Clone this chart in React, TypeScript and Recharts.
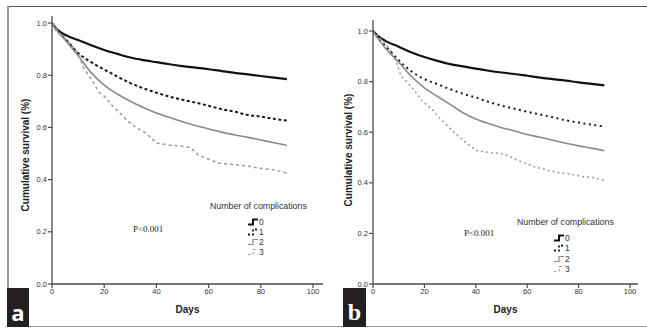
import React from 'react';
import { LineChart, Line, XAxis, YAxis } from 'recharts';

// ---- data ----
const days = [0, 2, 5, 10, 15, 20, 25, 30, 35, 40, 45, 50, 55, 60, 65, 70, 75, 80, 85, 90];

const aGroup0 = [1.0, 0.975, 0.955, 0.935, 0.915, 0.897, 0.882, 0.868, 0.858, 0.85, 0.842, 0.835, 0.829, 0.823, 0.816, 0.809, 0.803, 0.797, 0.791, 0.785];
const aGroup1 = [1.0, 0.97, 0.94, 0.885, 0.85, 0.822, 0.795, 0.77, 0.75, 0.733, 0.718, 0.706, 0.695, 0.683, 0.67, 0.66, 0.648, 0.642, 0.633, 0.626];
const aGroup2 = [1.0, 0.97, 0.935, 0.875, 0.81, 0.762, 0.728, 0.7, 0.676, 0.655, 0.638, 0.622, 0.607, 0.594, 0.582, 0.571, 0.562, 0.552, 0.541, 0.531];
const aGroup3Days = [0, 3, 6, 10, 12, 14, 16, 18, 20, 23, 26, 29, 32, 35, 38, 40, 45, 50, 53, 56, 60, 64, 70, 75, 79, 85, 90];
const aGroup3 = [1.0, 0.96, 0.93, 0.885, 0.83, 0.8, 0.77, 0.735, 0.72, 0.685, 0.655, 0.625, 0.6, 0.585, 0.56, 0.54, 0.532, 0.528, 0.522, 0.495, 0.478, 0.463, 0.457, 0.452, 0.444, 0.438, 0.425];

const bGroup0 = [1.0, 0.98, 0.96, 0.938, 0.915, 0.897, 0.882, 0.869, 0.86, 0.851, 0.843, 0.836, 0.83, 0.823, 0.816, 0.81, 0.804, 0.797, 0.791, 0.785];
const bGroup1 = [1.0, 0.97, 0.94, 0.885, 0.84, 0.81, 0.79, 0.77, 0.752, 0.737, 0.72, 0.705, 0.693, 0.681, 0.67, 0.659, 0.647, 0.638, 0.63, 0.622];
const bGroup2 = [1.0, 0.97, 0.93, 0.877, 0.82, 0.775, 0.742, 0.71, 0.677, 0.652, 0.634, 0.618, 0.605, 0.591, 0.58, 0.568, 0.556, 0.546, 0.537, 0.527];
const bGroup3Days = [0, 3, 6, 9, 11, 14, 16, 19, 23, 26, 29, 32, 36, 40, 45, 50, 53, 56, 60, 63, 68, 72, 76, 82, 86, 90];
const bGroup3 = [1.0, 0.97, 0.935, 0.88, 0.82, 0.79, 0.767, 0.725, 0.69, 0.655, 0.625, 0.595, 0.56, 0.528, 0.52, 0.515, 0.505, 0.49, 0.475, 0.462, 0.45, 0.44, 0.436, 0.424, 0.42, 0.41];

const xTicks = [0, 20, 40, 60, 80, 100];
const yTicks = [0, 0.2, 0.4, 0.6, 0.8, 1.0];
const groupLabels = ['0', '1', '2', '3'];
const legendTitle = 'Number of complications';
const pText = 'P<0.001';
const xTitle = 'Days';
const yTitle = 'Cumulative survival (%)';
const panelLetters = ['a', 'b'];

const toSeries = (xs: number[], ys: number[]) => xs.map((x, i) => ({ x, y: ys[i] }));

type SeriesStyle = { stroke: string; width: number; dash?: string; curve: 'monotone' | 'linear' };

const stylesA: SeriesStyle[] = [
  { stroke: '#111', width: 2.2, curve: 'monotone' },
  { stroke: '#1a1a1a', width: 2, dash: '3 2.5', curve: 'monotone' },
  { stroke: '#8a8a8a', width: 1.6, curve: 'monotone' },
  { stroke: '#9a9a9a', width: 1.5, dash: '3 3', curve: 'linear' },
];
const stylesB: SeriesStyle[] = [
  { stroke: '#111', width: 2.2, curve: 'monotone' },
  { stroke: '#1a1a1a', width: 2, dash: '2 3.5', curve: 'monotone' },
  { stroke: '#8a8a8a', width: 1.6, curve: 'monotone' },
  { stroke: '#9a9a9a', width: 1.5, dash: '2 3', curve: 'linear' },
];

const font = '"Liberation Sans", Arial, sans-serif';

type PanelProps = {
  left: number;
  width: number;
  margin: { top: number; right: number; bottom: number; left: number };
  yAxisWidth: number;
  xMax: number;
  yMax: number;
  series: { x: number; y: number }[][];
  styles: SeriesStyle[];
  yLabelX: number;
  yLabelY: number;
};

function Panel(p: PanelProps) {
  const axisColor = '#4a4a4a';
  return (
    <div style={{ position: 'absolute', left: p.left, top: 0 }}>
      <LineChart width={p.width} height={329} margin={p.margin}>
        <XAxis
          type="number"
          dataKey="x"
          domain={[0, p.xMax]}
          ticks={xTicks}
          allowDataOverflow
          height={30}
          tickSize={4}
          tickMargin={1}
          axisLine={{ stroke: axisColor, strokeWidth: 1.3 }}
          tickLine={{ stroke: axisColor, strokeWidth: 1.2 }}
          tick={{ fontSize: 7.5, fill: '#333' }}
          label={(props: any) => (
            <text x={(props.viewBox?.x ?? 0) + (props.viewBox?.width ?? 0) / 2} y={313} textAnchor="middle" fontSize={10} fontWeight="bold" fill="#222">
              {xTitle}
            </text>
          )}
        />
        <YAxis
          type="number"
          dataKey="y"
          domain={[0, p.yMax]}
          ticks={yTicks}
          allowDataOverflow
          width={p.yAxisWidth}
          tickSize={4}
          tickMargin={1}
          tickFormatter={(v: number) => v.toFixed(1)}
          axisLine={{ stroke: axisColor, strokeWidth: 1.3 }}
          tickLine={{ stroke: axisColor, strokeWidth: 1.2 }}
          tick={{ fontSize: 7.5, fill: '#333' }}
          label={() => (
            <text
              x={p.yLabelX}
              y={p.yLabelY}
              transform={`rotate(-90 ${p.yLabelX} ${p.yLabelY})`}
              textAnchor="middle"
              dominantBaseline="central"
              fontSize={10}
              fontWeight="bold"
              fill="#222"
            >
              {yTitle}
            </text>
          )}
        />
        {p.series.map((s, i) => (
          <Line
            key={i}
            data={s}
            dataKey="y"
            type={p.styles[i].curve}
            stroke={p.styles[i].stroke}
            strokeWidth={p.styles[i].width}
            strokeDasharray={p.styles[i].dash}
            dot={false}
            activeDot={false}
            isAnimationActive={false}
          />
        ))}
      </LineChart>
    </div>
  );
}

function LegendBlock({ titleLeft, titleTop, symLeft, rowTops, styles }: { titleLeft: number; titleTop: number; symLeft: number; rowTops: number[]; styles: SeriesStyle[] }) {
  return (
    <>
      <div style={{ position: 'absolute', left: titleLeft, top: titleTop, fontSize: 8.8, color: '#333', fontFamily: font, whiteSpace: 'nowrap', lineHeight: '10px' }}>
        {legendTitle}
      </div>
      {groupLabels.map((g, i) => (
        <div key={g} style={{ position: 'absolute', left: symLeft, top: rowTops[i] - 5, height: 10, display: 'flex', alignItems: 'center', fontFamily: font, fontSize: 8.5, color: '#333', lineHeight: '10px' }}>
          <svg width={11} height={8} style={{ display: 'block' }}>
            <path d="M0,6.5 H5 V1.5 H10" fill="none" stroke={styles[i].stroke} strokeWidth={i === 0 ? 2 : i === 1 ? 1.8 : 1.2} strokeDasharray={i === 1 ? '2 2' : i === 3 ? '2.5 2.5' : undefined} />
          </svg>
          <span>{g}</span>
        </div>
      ))}
    </>
  );
}

export default function App() {
  const seriesA = [toSeries(days, aGroup0), toSeries(days, aGroup1), toSeries(days, aGroup2), toSeries(aGroup3Days, aGroup3)];
  const seriesB = [toSeries(days, bGroup0), toSeries(days, bGroup1), toSeries(days, bGroup2), toSeries(bGroup3Days, bGroup3)];
  return (
    <div style={{ position: 'absolute', left: 0, top: 0, width: 647, height: 329, background: '#fff', fontFamily: font, overflow: 'hidden' }}>
      <Panel
        left={0}
        width={330}
        margin={{ top: 16, right: 7, bottom: 15, left: 0 }}
        yAxisWidth={52}
        xMax={103.8}
        yMax={1.027}
        series={seriesA}
        styles={stylesA}
        yLabelX={25}
        yLabelY={155}
      />
      <Panel
        left={320}
        width={327}
        margin={{ top: 20, right: 9, bottom: 15, left: 0 }}
        yAxisWidth={53}
        xMax={103.1}
        yMax={1.0435}
        series={seriesB}
        styles={stylesB}
        yLabelX={28}
        yLabelY={150}
      />
      {/* frame */}
      <div style={{ position: 'absolute', left: 7, top: 6, width: 640, height: 1, background: '#555' }} />
      <div style={{ position: 'absolute', left: 7, top: 6, width: 1.5, height: 321, background: '#999' }} />
      <div style={{ position: 'absolute', left: 7, top: 326, width: 640, height: 1, background: '#999' }} />
      {/* p-values */}
      <div style={{ position: 'absolute', left: 133, top: 223, fontFamily: '"Liberation Serif", "Times New Roman", serif', fontSize: 9, color: '#222', lineHeight: '12px' }}>{pText}</div>
      <div style={{ position: 'absolute', left: 464, top: 227, fontFamily: '"Liberation Serif", "Times New Roman", serif', fontSize: 9, color: '#222', lineHeight: '12px' }}>{pText}</div>
      {/* legends */}
      <LegendBlock titleLeft={210} titleTop={201} symLeft={248} rowTops={[222, 232, 242, 252]} styles={stylesA} />
      <LegendBlock titleLeft={517} titleTop={217} symLeft={554} rowTops={[238, 248, 259, 269]} styles={stylesB} />
      {/* panel letters */}
      <div style={{ position: 'absolute', left: 7, top: 288, width: 22, height: 39, background: '#231f20', color: '#fff', fontFamily: '"Open Sans", "Liberation Sans", sans-serif', fontWeight: 'bold', fontSize: 22, display: 'flex', alignItems: 'flex-end', justifyContent: 'center', lineHeight: '30px' }}>{panelLetters[0]}</div>
      <div style={{ position: 'absolute', left: 343, top: 288, width: 23, height: 39, background: '#231f20', color: '#fff', fontFamily: '"Liberation Serif", serif', fontWeight: 'bold', fontSize: 24, display: 'flex', alignItems: 'flex-end', justifyContent: 'center', lineHeight: '30px' }}>{panelLetters[1]}</div>
    </div>
  );
}
